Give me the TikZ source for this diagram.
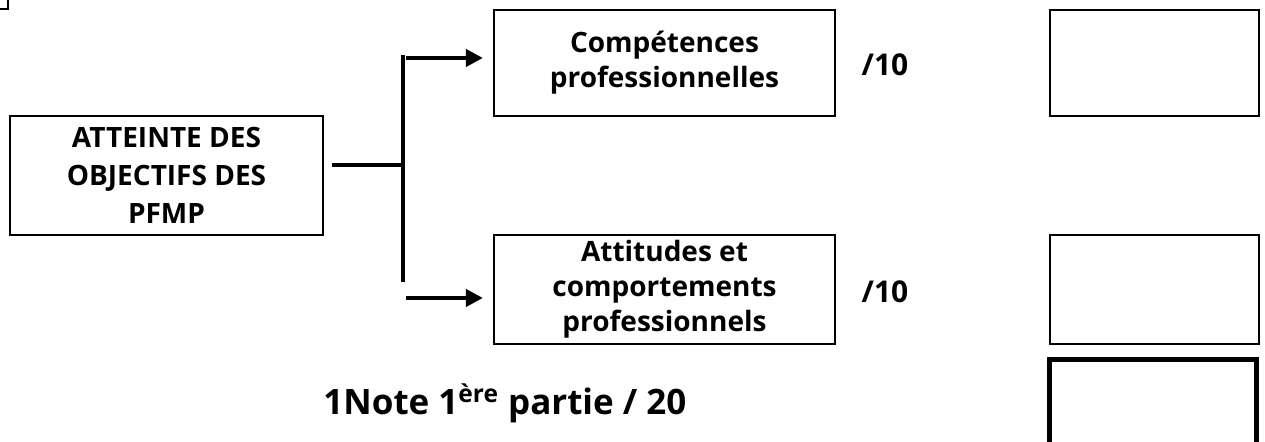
\documentclass[tikz,border=0pt]{standalone}
\usepackage{fontspec}
\setmainfont{Open Sans}
\usetikzlibrary{arrows.meta,positioning}

\begin{document}
\begin{tikzpicture}[
  x=0.5pt, y=-0.5pt,
  box/.style={draw, line width=1.1pt, align=center, inner sep=0pt, font=\fontsize{14}{17.5}\selectfont\bfseries},
  markbox/.style={draw, line width=1.1pt, minimum width=104.5pt, inner sep=0pt},
  totalbox/.style={draw, line width=2.5pt, minimum width=103.5pt, inner sep=0pt},
  link/.style={line width=2pt},
  arrow/.style={line width=2pt, -{Triangle[length=8.5pt,width=8.5pt]}},
  every node/.style={font=\fontsize{15}{18}\selectfont\bfseries}
]
\useasboundingbox (0,0) rectangle (1265,442);

% corner at top left
\draw[line width=1.1pt] (0,9) -| (8,0);

% main box
\node[box, font=\fontsize{14}{19}\selectfont\bfseries, minimum width=156.5pt, minimum height=59.5pt] (atteinte) at (166.5,175.5) {ATTEINTE DES\\OBJECTIFS DES\\PFMP};

% sub boxes
\node[box, minimum width=170.5pt, minimum height=53pt] (comp) at (664.5,63) {Compétences\\professionnelles};
\node[box, minimum width=170.5pt, minimum height=54.5pt] (attit) at (664.5,289.5) {Attitudes et\\comportements\\professionnels};

% marks
\node (pointscomp) at (885,65) {/10};
\node (pointsattit) at (885,292) {/10};

% boxes for the marks
\node[markbox, minimum height=53pt] (notecomp) at (1154.5,63) {};
\node[markbox, minimum height=54.5pt] (noteattit) at (1154.5,289.5) {};
\node[totalbox, minimum height=46pt] (total) at (1153,406) {}; % runs past the bottom edge

% total
\node[anchor=base west, inner sep=0pt, font=\fontsize{17.5}{20}\selectfont\bfseries] (totaltext) at (323,415) {1Note 1\textsuperscript{ère} partie / 20};

% fork
\coordinate (fork) at (403,165);
\coordinate (forktop) at (403,55);
\coordinate (forkbot) at (403,282);
\draw[link] ([xshift=4pt]atteinte.east |- fork) -- (fork);
\draw[link] (forktop) -- (forkbot);
\draw[arrow] (406,58) -- ([xshift=-5pt]comp.west |- 0,58);
\draw[arrow] (406,298) -- ([xshift=-5pt]attit.west |- 0,298);

\end{tikzpicture}
\end{document}
